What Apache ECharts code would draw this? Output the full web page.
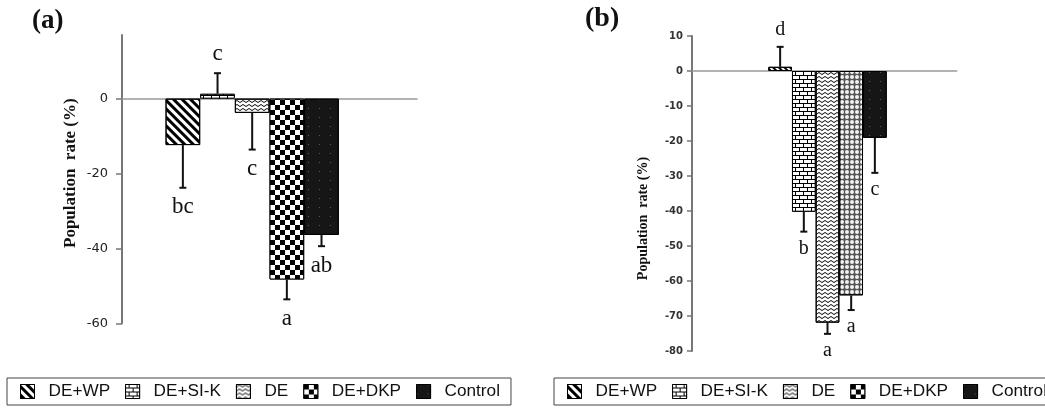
<!DOCTYPE html>
<html><head><meta charset="utf-8">
<script src="https://cdn.jsdelivr.net/npm/echarts@6/dist/echarts.min.js"></script>
<style>html,body{margin:0;padding:0;background:#fff}#c{width:1045px;height:419px}</style>
</head><body><div id="c"></div>
<script>
// ---------- data ----------
const categories = ['DE+WP', 'DE+SI-K', 'DE', 'DE+DKP', 'Control'];
const valuesA = [-12.4, 1.3, -3.8, -48.3, -36.4];
const errorsA = [11.4, 5.5, 9.8, 5.3, 3.0];
const lettersA = ['bc', 'c', 'c', 'a', 'ab'];
const valuesB = [1.2, -40.2, -71.9, -64.1, -19.1];
const errorsB = [5.7, 5.7, 3.2, 4.2, 10.0];
const lettersB = ['d', 'b', 'a', 'a', 'c'];
const yTicksA = [0, -20, -40, -60];
const yTicksB = [10, 0, -10, -20, -30, -40, -50, -60, -70, -80];
const yTitle = 'Population  rate (%)';

// ---------- styles ----------
function patterns(panel) {
  const stripe = {symbol: 'rect', color: '#000', dashArrayX: [[1, 0]], dashArrayY: panel === 'a' ? [2.6, 2.6] : [2, 2], rotation: Math.PI / 4};
  const brick = {symbol: 'rect', color: '#fff', dashArrayX: [[7, 1], [3, 1, 4, 0]], dashArrayY: [3, 1]};
  const zigzag = {symbol: 'path://M0,4 L5,0 L10,4 L10,6.2 L5,2.2 L0,6.2 Z', symbolKeepAspect: false, color: '#000', dashArrayX: [[6, 0]], dashArrayY: [3, 1]};
  const checker = {symbol: 'rect', color: '#fff', dashArrayX: [[5, 5], [0, 5, 5, 0]], dashArrayY: [5, 0]};
  const dots = {symbol: 'circle', color: '#f2f2f2', dashArrayX: [[4, 1]], dashArrayY: [4, 1]};
  const control = {symbol: 'rect', color: '#5a5a5a', dashArrayX: [[1, 10]], dashArrayY: [1, 8]};
  return [
    {color: '#fff', decal: stripe},
    {color: '#000', decal: brick},
    {color: '#fff', decal: zigzag},
    panel === 'a' ? {color: '#000', decal: checker} : {color: '#555', decal: dots},
    {color: '#161616', decal: control}
  ];
}

function barSeries(panel, values, axisIdx) {
  const pats = patterns(panel);
  return categories.map((name, i) => ({
    type: 'bar', name: name,
    xAxisIndex: axisIdx, yAxisIndex: axisIdx,
    data: [[i + 1, values[i]]],
    barWidth: '100%', barGap: '-100%',
    itemStyle: Object.assign({borderColor: '#000', borderWidth: 1}, pats[i]),
    emphasis: {disabled: true},
    z: 2
  }));
}

function errSeries(values, errors, letters, axisIdx, fontSize, offset) {
  return {
    type: 'custom', xAxisIndex: axisIdx, yAxisIndex: axisIdx, z: 5, silent: true,
    data: values.map((v, i) => [i + 1, v, v + (v >= 0 ? 1 : -1) * errors[i]]),
    renderItem: function (params, api) {
      const x = api.value(0), v = api.value(1), e = api.value(2);
      const p0 = api.coord([x, v]), p1 = api.coord([x, e]);
      const up = e > v;
      return {type: 'group', children: [
        {type: 'line', shape: {x1: p0[0], y1: p0[1], x2: p1[0], y2: p1[1]}, style: {stroke: '#111', lineWidth: 2}},
        {type: 'line', shape: {x1: p1[0] - 3.5, y1: p1[1], x2: p1[0] + 3.5, y2: p1[1]}, style: {stroke: '#111', lineWidth: 2}},
        {type: 'text', style: {text: letters[params.dataIndex], x: p1[0], y: up ? p1[1] - offset : p1[1] + offset,
          align: 'center', verticalAlign: up ? 'bottom' : 'top',
          fontFamily: 'Liberation Serif', fontSize: fontSize, fill: '#111'}}
      ]};
    }
  };
}

const legendBase = {
  data: categories, orient: 'horizontal', selectedMode: false,
  itemWidth: 14, itemHeight: 14, itemGap: 15, icon: 'rect', width: 560,
  borderColor: '#444', borderWidth: 1, padding: [5, 11, 5, 13],
  itemStyle: {borderColor: '#000', borderWidth: 1},
  textStyle: {fontFamily: 'Liberation Sans', fontSize: 17.2, color: '#111', padding: [0, 0, 0, 9]}
};

const option = {
  animation: false,
  backgroundColor: '#fff',
  title: [
    {text: '(a)', left: 32, top: 8, padding: 0, textStyle: {fontFamily: 'Liberation Serif', fontWeight: 'bold', fontSize: 27, color: '#111'}},
    {text: '(b)', left: 585, top: 5, padding: 0, textStyle: {fontFamily: 'Liberation Serif', fontWeight: 'bold', fontSize: 28, color: '#111'}}
  ],
  legend: [
    Object.assign({}, legendBase, {left: 7, top: 378}),
    Object.assign({}, legendBase, {left: 554, top: 378})
  ],
  grid: [
    {left: 122, top: 35, width: 295, height: 288.3, outerBoundsMode: 'none'},
    {left: 692, top: 36, width: 264.7, height: 315, outerBoundsMode: 'none'}
  ],
  xAxis: [
    {type: 'value', gridIndex: 0, min: -0.756, max: 7.755, axisLine: {onZero: true, lineStyle: {color: '#999', width: 1.5}},
     axisTick: {show: false}, axisLabel: {show: false}, splitLine: {show: false}},
    {type: 'value', gridIndex: 1, min: -2.722, max: 8.456, axisLine: {onZero: true, lineStyle: {color: '#999', width: 1.5}},
     axisTick: {show: false}, axisLabel: {show: false}, splitLine: {show: false}}
  ],
  yAxis: [
    {type: 'value', gridIndex: 0, min: -60, max: 17,
     axisLine: {show: true, onZero: false, lineStyle: {color: '#777', width: 2}},
     axisTick: {show: true, length: 6, customValues: yTicksA, lineStyle: {color: '#777', width: 1.5}},
     axisLabel: {customValues: yTicksA, margin: 14, fontFamily: 'DejaVu Sans', fontSize: 13, color: '#222'},
     splitLine: {show: false},
     name: yTitle, nameLocation: 'middle', nameRotate: 90, nameGap: 43,
     nameTextStyle: {fontFamily: 'Liberation Serif', fontWeight: 'bold', fontSize: 17, color: '#111', padding: [0, 0, 0, 12]}},
    {type: 'value', gridIndex: 1, min: -80, max: 10, interval: 10,
     axisLine: {show: true, onZero: false, lineStyle: {color: '#777', width: 2}},
     axisTick: {show: true, length: 5, customValues: yTicksB, lineStyle: {color: '#777', width: 1.5}},
     axisLabel: {customValues: yTicksB, margin: 9, fontFamily: 'DejaVu Sans', fontWeight: 'bold', fontSize: 10, color: '#333'},
     splitLine: {show: false},
     name: yTitle, nameLocation: 'middle', nameRotate: 90, nameGap: 42,
     nameTextStyle: {fontFamily: 'Liberation Serif', fontWeight: 'bold', fontSize: 14, color: '#111', padding: [0, 50, 0, 0]}}
  ],
  series: [].concat(
    barSeries('a', valuesA, 0),
    barSeries('b', valuesB, 1),
    [errSeries(valuesA, errorsA, lettersA, 0, 23, 8), errSeries(valuesB, errorsB, lettersB, 1, 20, 7)]
  )
};
const chart = echarts.init(document.getElementById('c'));
chart.setOption(option);
</script></body></html>
